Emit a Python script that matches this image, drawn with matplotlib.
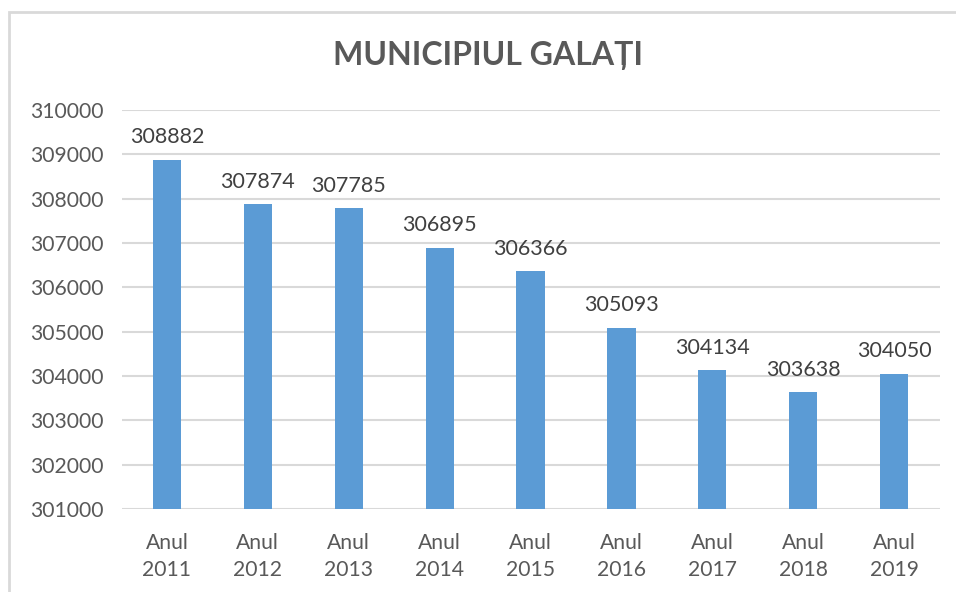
import matplotlib.pyplot as plt
from matplotlib.patches import Rectangle

years = ["2011", "2012", "2013", "2014", "2015", "2016", "2017", "2018", "2019"]
population = [308882, 307874, 307785, 306895, 306366, 305093, 304134, 303638, 304050]
yticks = list(range(301000, 310001, 1000))

plt.rcParams['font.family'] = ['Lato', 'DejaVu Sans']

fig = plt.figure(figsize=(9.56, 5.92), dpi=100)
W, H = 956, 592

# outer chart frame (only top and left edges visible in the crop)
fig.patches.append(Rectangle((9 / W, -0.1), 1.2, (592 - 12) / H + 0.1,
                             transform=fig.transFigure, fill=False,
                             edgecolor='#d9d9d9', linewidth=2))

ax = fig.add_axes([121.5 / W, 1 - 509 / H, (939.6 - 121.5) / W, (509 - 110) / H])

labels = ["Anul\n" + y for y in years]
x = range(len(years))
base = yticks[0]
ax.bar(x, [p - base for p in population], bottom=base, width=0.31,
       color='#5b9bd5', zorder=3)

for xi, p in zip(x, population):
    ax.annotate(str(p), (xi, p), xytext=(0, 9), textcoords='offset points',
                ha='center', va='bottom', fontsize=15.5, color='#404040')

ax.set_xlim(-0.5, len(years) - 0.5)
ax.set_ylim(yticks[0], yticks[-1])
ax.set_yticks(yticks)
ax.set_yticklabels([str(t) for t in yticks])
ax.set_xticks(list(x))
ax.set_xticklabels(labels, linespacing=1.45)
ax.tick_params(axis='both', length=0, labelsize=15.2, labelcolor='#595959')
ax.tick_params(axis='y', pad=13)
ax.tick_params(axis='x', pad=17)
ax.grid(axis='y', color='#d9d9d9', linewidth=1.5, zorder=0)
for s in ax.spines.values():
    s.set_visible(False)

fig.text(488 / W, 1 - 56 / H, "MUNICIPIUL GALAȚI", ha='center', va='center',
         fontsize=23, fontweight='bold', color='#595959')

fig.savefig("out.png", dpi=100)
